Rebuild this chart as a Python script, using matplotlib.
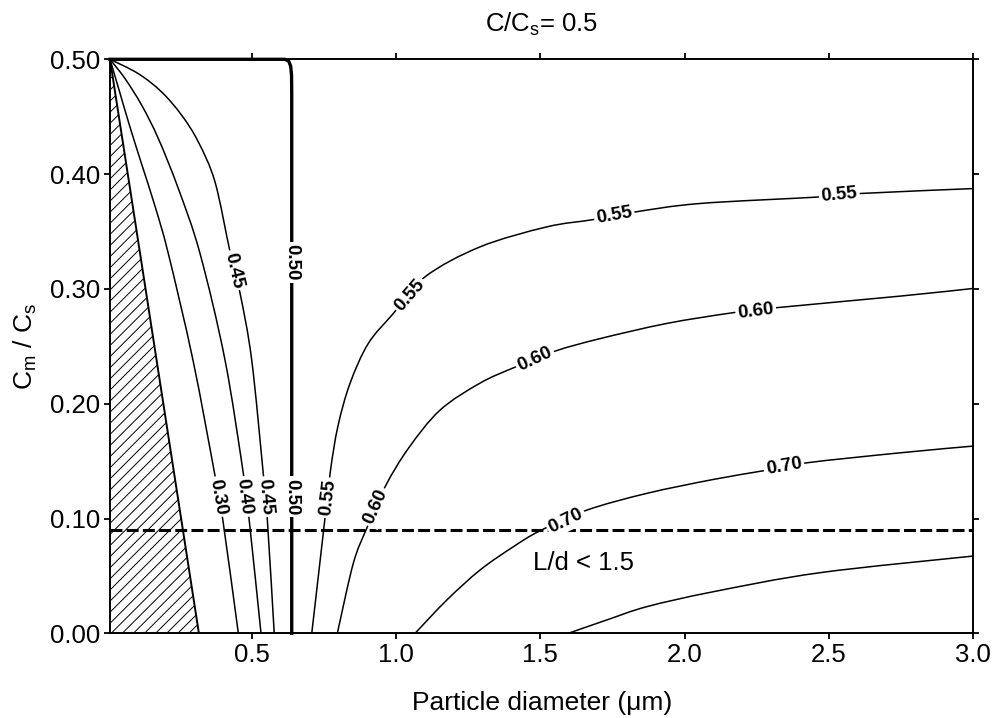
import matplotlib
matplotlib.use("Agg")
import matplotlib.pyplot as plt
from matplotlib.patches import Polygon, PathPatch
from matplotlib.path import Path

plt.rcParams['font.family'] = ['Liberation Sans', 'DejaVu Sans']
plt.rcParams['mathtext.fontset'] = 'custom'
plt.rcParams['mathtext.rm'] = 'Liberation Sans'
plt.rcParams['mathtext.it'] = 'Liberation Sans'
plt.rcParams['mathtext.default'] = 'regular'
plt.rcParams['hatch.linewidth'] = 0.7

# ---- data ----
c030_x = [0.009, 0.0437, 0.078, 0.1199, 0.165, 0.211, 0.2966, 0.3729, 0.3995, 0.4536]
c030_y = [0.500, 0.4704, 0.4412, 0.4077, 0.372, 0.3308, 0.2378, 0.1372, 0.0995, 0.0]

c040_x = [0.009, 0.061, 0.1188, 0.1764, 0.2457, 0.3209, 0.4075, 0.4709, 0.4906, 0.5322]
c040_y = [0.500, 0.4832, 0.460, 0.431, 0.3874, 0.3308, 0.238, 0.1393, 0.1001, 0.0]

c045_x = [0.009, 0.107, 0.188, 0.2575, 0.315, 0.373, 0.425, 0.4595, 0.500, 0.540, 0.554, 0.578]
c045_y = [0.500, 0.4875, 0.4715, 0.4512, 0.428, 0.393, 0.3322, 0.2963, 0.238, 0.139, 0.0993, 0.0]

c050_x = [0.009, 0.615, 0.628, 0.635, 0.638, 0.6386, 0.6386]
c050_y = [0.500, 0.500, 0.4985, 0.494, 0.486, 0.470, 0.0]

c055_x = [0.708, 0.730, 0.752, 0.773, 0.799, 0.8406, 0.904, 0.9907, 1.1005, 1.291, 1.522,
          1.684, 1.828, 2.053, 2.467, 2.608, 3.0]
c055_y = [0.0, 0.048, 0.0963, 0.142, 0.1807, 0.2177, 0.2525, 0.2786, 0.3105, 0.3366, 0.354,
          0.3604, 0.367, 0.3744, 0.3801, 0.3831, 0.3874]

c060_x = [0.7966, 0.852, 0.8985, 0.962, 1.0426, 1.1525, 1.291, 1.412, 1.551, 1.707,
          1.938, 2.163, 2.325, 2.746, 3.0]
c060_y = [0.0, 0.061, 0.0914, 0.1276, 0.161, 0.1944, 0.2179, 0.2318, 0.2458, 0.2567,
          0.2699, 0.2791, 0.2838, 0.2937, 0.3004]

c070_x = [1.066, 1.176, 1.291, 1.4065, 1.499, 1.661, 1.869, 2.099, 2.273, 2.423, 2.746, 3.0]
c070_y = [0.0, 0.029, 0.0551, 0.0754, 0.0893, 0.1073, 0.1219, 0.134, 0.1416, 0.1485,
          0.1572, 0.1631]

c080_x = [1.597, 1.73, 1.869, 2.099, 2.469, 3.0]
c080_y = [0.0, 0.0116, 0.0232, 0.0362, 0.0528, 0.0673]

hatch_x = [0.009, 0.009, 0.317]
hatch_y = [0.500, 0.0, 0.0]

ld_limit = 0.09

label_text = ["0.45", "0.50", "0.30", "0.40", "0.45", "0.50", "0.55", "0.60",
              "0.55", "0.55", "0.55", "0.60", "0.60", "0.70", "0.70"]
label_x = [0.436, 0.6386, 0.383, 0.4745, 0.5484, 0.6386, 0.7655, 0.9307,
           1.0485, 1.7564, 2.536, 1.4817, 2.2464, 1.589, 2.344]
label_y = [0.316, 0.323, 0.119, 0.119, 0.119, 0.119, 0.118, 0.110,
           0.2945, 0.3636, 0.3816, 0.2385, 0.2809, 0.098, 0.145]
label_rot = [-77, -90, -80, -83, -85, -90, 83, 66, 49, 10, 5, 25, 7, 26, 10]

x_ticks = [0.5, 1.0, 1.5, 2.0, 2.5, 3.0]
y_ticks = [0.0, 0.1, 0.2, 0.3, 0.4, 0.5]


def smooth_path(xs, ys):
    """Smooth (Catmull-Rom style) Bezier path through the given points."""
    pts = list(zip(xs, ys))
    n = len(pts)
    verts = [pts[0]]
    codes = [Path.MOVETO]
    for i in range(n - 1):
        p0 = pts[i - 1] if i > 0 else pts[i]
        p1 = pts[i]
        p2 = pts[i + 1]
        p3 = pts[i + 2] if i + 2 < n else pts[i + 1]
        c1 = (p1[0] + (p2[0] - p0[0]) / 6.0, p1[1] + (p2[1] - p0[1]) / 6.0)
        c2 = (p2[0] - (p3[0] - p1[0]) / 6.0, p2[1] - (p3[1] - p1[1]) / 6.0)
        verts += [c1, c2, p2]
        codes += [Path.CURVE4] * 3
    return Path(verts, codes)


# ---- figure ----
fig = plt.figure(figsize=(9.93, 7.18), dpi=100)
ax = fig.add_axes([110/993, (718-633.3)/718, (973.3-110)/993, (633.3-59.3)/718])

ax.set_xlim(0.009, 3.0)
ax.set_ylim(0.0, 0.5)

for xs, ys in [(c030_x, c030_y), (c040_x, c040_y), (c045_x, c045_y),
               (c055_x, c055_y), (c060_x, c060_y), (c070_x, c070_y), (c080_x, c080_y)]:
    ax.add_patch(PathPatch(smooth_path(xs, ys), fc='none', ec='black', lw=1.1,
                           capstyle='butt', zorder=2))
ax.plot(c050_x, c050_y, color='black', lw=2.4, clip_on=False, zorder=3,
        solid_joinstyle='round')

poly = Polygon(list(zip(hatch_x, hatch_y)), closed=True, facecolor='none',
               edgecolor='black', hatch='///', lw=0, zorder=1)
ax.add_patch(poly)
ax.plot([hatch_x[0], hatch_x[2]], [hatch_y[0], hatch_y[2]], color='black', lw=1.4, zorder=2)

ax.plot([0.009, 3.0], [ld_limit, ld_limit], color='black', lw=2.2,
        dashes=(3.9, 1.4), zorder=2)

for t, x, y, r in zip(label_text, label_x, label_y, label_rot):
    ax.text(x, y, t, rotation=r, rotation_mode='anchor', ha='center', va='center',
            fontsize=13.5, fontweight='bold', zorder=4,
            bbox=dict(boxstyle='square,pad=0.12', fc='white', ec='none'))

ax.text(1.649, 0.061, "L/d < 1.5", ha='center', va='center', fontsize=18.5, zorder=4)

ax.set_xticks(x_ticks)
ax.set_xticklabels([f"{v:.1f}" for v in x_ticks])
ax.set_yticks(y_ticks)
ax.set_yticklabels([f"{v:.2f}" for v in y_ticks])
ax.tick_params(direction='out', length=4, width=1.3, labelsize=18.5, pad=3,
               top=True, right=True, labeltop=False, labelright=False)
for s in ax.spines.values():
    s.set_linewidth(1.4)

ax.set_xlabel("Particle diameter (μm)", fontsize=19, labelpad=17)
ax.set_ylabel("C$_m$ / C$_s$", fontsize=19, labelpad=8)
ax.set_title("C/C$_s$= 0.5", fontsize=18.5, pad=20)

fig.savefig("out.png", dpi=100)
